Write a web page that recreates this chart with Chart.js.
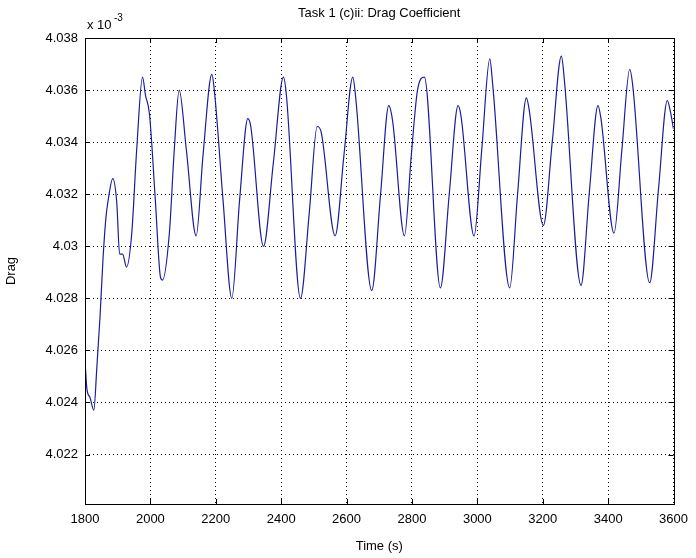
<!DOCTYPE html>
<html>
<head>
<meta charset="utf-8">
<script src="https://cdn.jsdelivr.net/npm/chart.js@4/dist/chart.umd.min.js"></script>
<style>
  html, body { margin: 0; padding: 0; background: #fff; }
  #wrap { width: 696px; height: 558px; }
</style>
</head>
<body>
<div id="wrap"><canvas id="myChart" width="696" height="558"></canvas></div>
<script>
// values (drag in units of 1e-3)
var times = [1800, 1806, 1815, 1827, 1836, 1846, 1855, 1864, 1870, 1885, 1897, 1906, 1915, 1927, 1943, 1958, 1976, 1985, 1997, 2015,
  2031, 2037, 2058, 2073, 2088, 2110, 2140, 2161, 2188, 2197, 2222, 2249, 2273, 2298, 2307, 2346, 2376, 2407, 2416, 2459,
  2486, 2510, 2522, 2565, 2592, 2619, 2628, 2677, 2704, 2729, 2741, 2777, 2798, 2817, 2838, 2887, 2914, 2941, 2950, 2990,
  3014, 3038, 3047, 3099, 3123, 3150, 3159, 3202, 3229, 3257, 3266, 3317, 3342, 3369, 3378, 3418, 3442, 3466, 3475, 3527,
  3554, 3581, 3590, 3600];
var drag = [4.0256, 4.0245, 4.0242, 4.0237, 4.0253, 4.0273, 4.0295, 4.0311, 4.0317, 4.0326, 4.0317, 4.0297, 4.0297, 4.0292, 4.0305, 4.0337, 4.0365, 4.0358, 4.0351, 4.0318,
  4.0288, 4.0287, 4.0305, 4.0337, 4.0360, 4.0337, 4.0304, 4.0335, 4.0366, 4.0358, 4.0318, 4.0280, 4.0318, 4.0349, 4.0346, 4.0300, 4.0332, 4.0365, 4.0358, 4.0280,
  4.0313, 4.0346, 4.0344, 4.0304, 4.0335, 4.0365, 4.0357, 4.0283, 4.0320, 4.0354, 4.0348, 4.0304, 4.0335, 4.0360, 4.0365, 4.0284, 4.0320, 4.0354, 4.0350, 4.0304,
  4.0338, 4.0372, 4.0362, 4.0284, 4.0320, 4.0357, 4.0352, 4.0308, 4.0340, 4.0373, 4.0364, 4.0285, 4.0320, 4.0354, 4.0349, 4.0305, 4.0337, 4.0368, 4.0362, 4.0286,
  4.0322, 4.0356, 4.0352, 4.0345];
var xTicks = [1800, 2000, 2200, 2400, 2600, 2800, 3000, 3200, 3400, 3600];
var yTicks = [4.022, 4.024, 4.026, 4.028, 4.03, 4.032, 4.034, 4.036, 4.038];
var yMin = 4.0201, yMax = 4.038;

var points = times.map(function (t, i) { return {x: t, y: drag[i]}; });
var font = 'Liberation Sans';

// matlab style: box, inward ticks, title and exponent label
var matlabAxes = {
  id: 'matlabAxes',
  afterDraw: function (chart) {
    var c = chart.ctx, a = chart.chartArea;
    var xs = chart.scales.x, ys = chart.scales.y;
    c.save();
    c.strokeStyle = '#000';
    c.lineWidth = 1;
    c.beginPath();
    xTicks.forEach(function (t) {
      var px = Math.round(xs.getPixelForValue(t)) + 0.5;
      c.moveTo(px, a.bottom); c.lineTo(px, a.bottom - 5);
      c.moveTo(px, a.top); c.lineTo(px, a.top + 5);
    });
    yTicks.forEach(function (v) {
      var py = Math.round(ys.getPixelForValue(v)) + 0.5;
      c.moveTo(a.left, py); c.lineTo(a.left + 5, py);
      c.moveTo(a.right, py); c.lineTo(a.right - 5, py);
    });
    c.stroke();
    c.strokeRect(Math.round(a.left) + 0.5, Math.round(a.top) + 0.5,
      Math.round(a.right - a.left), Math.round(a.bottom - a.top));
    c.fillStyle = '#000';
    c.font = '13px "' + font + '"';
    c.textAlign = 'center';
    c.textBaseline = 'middle';
    c.fillText('Task 1 (c)ii: Drag Coefficient', (a.left + a.right) / 2, 13);
    c.textAlign = 'left';
    c.fillText('x 10', a.left + 2, 25);
    c.font = '10px "' + font + '"';
    c.fillText('-3', a.left + 29, 18);
    c.restore();
  }
};

new Chart(document.getElementById('myChart'), {
  type: 'line',
  data: {
    datasets: [{
      data: points,
      borderColor: '#1c1c9c',
      borderWidth: 1.2,
      pointRadius: 0,
      cubicInterpolationMode: 'monotone',
      fill: false
    }]
  },
  options: {
    responsive: false,
    animation: false,
    devicePixelRatio: 1,
    layout: {padding: {top: 38, right: 18, left: 0, bottom: 0}},
    plugins: {legend: {display: false}, tooltip: {enabled: false}, title: {display: false}},
    scales: {
      x: {
        type: 'linear',
        min: 1800, max: 3600,
        afterBuildTicks: function (s) { s.ticks = xTicks.map(function (v) { return {value: v}; }); },
        afterFit: function (s) { s.height = 54; },
        grid: {color: '#000', lineWidth: 1, drawTicks: false},
        border: {display: false, dash: [1, 3]},
        ticks: {
          color: '#000', font: {family: font, size: 13}, padding: 8, maxRotation: 0,
          callback: function (v) { return String(v); }
        },
        title: {display: true, text: 'Time (s)', color: '#000', font: {family: font, size: 13}, padding: {top: 0}}
      },
      y: {
        type: 'linear',
        min: yMin, max: yMax,
        afterBuildTicks: function (s) { s.ticks = yTicks.map(function (v) { return {value: v}; }); },
        afterFit: function (s) { s.width = 85; },
        grid: {color: '#000', lineWidth: 1, drawTicks: false},
        border: {display: false, dash: [1, 3]},
        ticks: {
          color: '#000', font: {family: font, size: 13}, padding: 7,
          callback: function (v) { return String(parseFloat(v.toFixed(3))); }
        },
        title: {display: true, text: 'Drag', color: '#000', font: {family: font, size: 13}, padding: {bottom: 2}}
      }
    }
  },
  plugins: [matlabAxes]
});
</script>
</body>
</html>
